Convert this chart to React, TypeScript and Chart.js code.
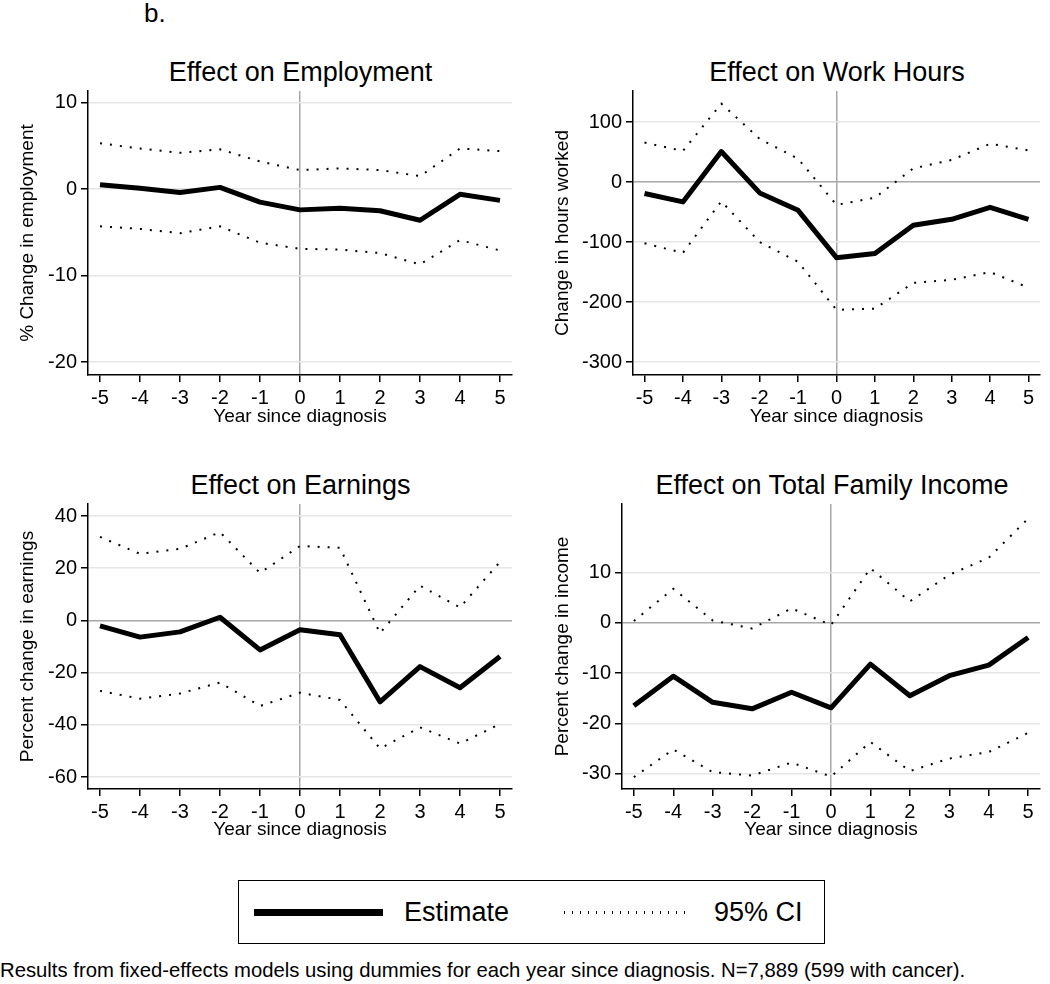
import React, { useEffect, useRef } from "react";
import { Chart, registerables } from "chart.js";

Chart.register(...registerables);

const FONT = "'Liberation Sans', Arial, Helvetica, sans-serif";

// ---- Data ----
const years = [-5, -4, -3, -2, -1, 0, 1, 2, 3, 4, 5];

const employmentEst = [0.5, 0.1, -0.4, 0.2, -1.5, -2.4, -2.2, -2.5, -3.6, -0.6, -1.3];
const employmentHi = [5.3, 4.7, 4.2, 4.6, 3.2, 2.2, 2.4, 2.2, 1.5, 4.7, 4.4];
const employmentLo = [-4.3, -4.6, -5.1, -4.3, -6.2, -6.9, -7.0, -7.4, -8.7, -5.9, -7.1];
const employmentTicks = [-20, -10, 0, 10];

const hoursEst = [-19, -33, 51, -18, -47, -126, -119, -72, -62, -42, -62];
const hoursHi = [66, 52, 131, 72, 39, -38, -26, 23, 37, 64, 53];
const hoursLo = [-102, -118, -32, -100, -133, -213, -211, -168, -163, -150, -176];
const hoursTicks = [-300, -200, -100, 0, 100];

const earningsEst = [-2.1, -6.4, -4.4, 1.2, -11.3, -3.6, -5.5, -31.2, -17.7, -25.8, -13.8];
const earningsHi = [32, 25.5, 27.4, 33.8, 18.2, 28.5, 27.8, -4.9, 13.3, 5.0, 22.4];
const earningsLo = [-27, -30, -28, -23.8, -32.8, -27.7, -30.5, -49.1, -41, -47.2, -39.7];
const earningsTicks = [-60, -40, -20, 0, 20, 40];

const incomeEst = [-16.5, -10.6, -15.8, -17.1, -13.8, -16.9, -8.2, -14.5, -10.5, -8.4, -2.9];
const incomeHi = [0.4, 6.8, 0.5, -1.1, 2.9, -0.4, 10.9, 4.3, 9.6, 13.0, 20.8];
const incomeLo = [-30.7, -25.2, -29.7, -30.4, -27.8, -30.6, -23.7, -29.5, -27, -25.7, -21.9];
const incomeTicks = [-30, -20, -10, 0, 10];

const xTitle = "Year since diagnosis";

type PanelSpec = {
  title: string;
  yTitle: string;
  est: number[];
  hi: number[];
  lo: number[];
  yTicks: number[];
  yMin: number;
  yMax: number;
  zeroLine: boolean;
  // layout
  left: number;
  top: number;
  w: number;
  h: number;
  yAxisW: number;
  xAxisH: number;
  yTitlePad: number;
  titleCenter: number;
  titleTop: number;
};

const panels: PanelSpec[] = [
  {
    title: "Effect on Employment",
    yTitle: "% Change in employment",
    est: employmentEst, hi: employmentHi, lo: employmentLo, yTicks: employmentTicks,
    yMin: -21.5, yMax: 11.35, zeroLine: false,
    left: 0, top: 71, w: 522, h: 364, yAxisW: 88, xAxisH: 60, yTitlePad: 16,
    titleCenter: 300.5, titleTop: 59,
  },
  {
    title: "Effect on Work Hours",
    yTitle: "Change in hours worked",
    est: hoursEst, hi: hoursHi, lo: hoursLo, yTicks: hoursTicks,
    yMin: -321.7, yMax: 152, zeroLine: true,
    left: 520, top: 71, w: 530, h: 364, yAxisW: 113, xAxisH: 60, yTitlePad: 31.5,
    titleCenter: 837, titleTop: 59,
  },
  {
    title: "Effect on Earnings",
    yTitle: "Percent change in earnings",
    est: earningsEst, hi: earningsHi, lo: earningsLo, yTicks: earningsTicks,
    yMin: -64.6, yMax: 44.6, zeroLine: true,
    left: 0, top: 484, w: 522, h: 364, yAxisW: 88, xAxisH: 59, yTitlePad: 16,
    titleCenter: 300.5, titleTop: 472,
  },
  {
    title: "Effect on Total Family Income",
    yTitle: "Percent change in income",
    est: incomeEst, hi: incomeHi, lo: incomeLo, yTicks: incomeTicks,
    yMin: -33.07, yMax: 23.7, zeroLine: true,
    left: 520, top: 484, w: 530, h: 364, yAxisW: 102, xAxisH: 59, yTitlePad: 31,
    titleCenter: 832, titleTop: 472,
  },
];

function Panel({ spec }: { spec: PanelSpec }) {
  const ref = useRef<HTMLCanvasElement | null>(null);
  useEffect(() => {
    if (!ref.current) return;
    const pts = (arr: number[]) => years.map((x, i) => ({ x, y: arr[i] }));
    const chart = new Chart(ref.current, {
      type: "line",
      data: {
        datasets: [
          {
            label: "Estimate",
            data: pts(spec.est),
            borderColor: "#000",
            borderWidth: 5,
            pointRadius: 0,
            borderJoinStyle: "round",
            borderCapStyle: "butt",
            tension: 0,
          },
          {
            label: "95% CI upper",
            data: pts(spec.hi),
            borderColor: "#000",
            borderWidth: 2,
            borderDash: [2, 8],
            pointRadius: 0,
            tension: 0,
          },
          {
            label: "95% CI lower",
            data: pts(spec.lo),
            borderColor: "#000",
            borderWidth: 2,
            borderDash: [2, 8],
            pointRadius: 0,
            tension: 0,
          },
        ],
      },
      options: {
        responsive: false,
        animation: false,
        devicePixelRatio: 1,
        events: [],
        layout: { padding: { top: 20, right: 10, left: 0, bottom: 0 } },
        plugins: { legend: { display: false }, tooltip: { enabled: false }, title: { display: false } },
        scales: {
          x: {
            type: "linear",
            min: -5.3,
            max: 5.3,
            afterBuildTicks: (s: any) => {
              s.ticks = years.map((v) => ({ value: v }));
            },
            afterFit: (s: any) => {
              s.height = spec.xAxisH;
            },
            ticks: {
              font: { size: 20, family: FONT },
              color: "#000",
              padding: 4,
              autoSkip: false,
              maxRotation: 0,
              callback: (v: any) => String(v),
            },
            grid: {
              color: (c: any) => (c.tick && c.tick.value === 0 ? "#a8a8a8" : "rgba(0,0,0,0)"),
              tickColor: "#000",
              tickLength: 7,
              lineWidth: 1.5,
              drawOnChartArea: true,
            },
            border: { display: true, color: "#000", width: 1.5 },
            title: {
              display: true,
              text: xTitle,
              font: { size: 19, family: FONT },
              color: "#000",
              padding: { top: 0, bottom: 7 },
            },
          },
          y: {
            type: "linear",
            min: spec.yMin,
            max: spec.yMax,
            afterBuildTicks: (s: any) => {
              s.ticks = spec.yTicks.map((v) => ({ value: v }));
            },
            afterFit: (s: any) => {
              s.width = spec.yAxisW;
            },
            ticks: {
              font: { size: 20, family: FONT },
              color: "#000",
              padding: 4,
              autoSkip: false,
              callback: (v: any) => String(v),
            },
            grid: {
              color: (c: any) =>
                c.tick && c.tick.value === 0 && spec.zeroLine ? "#a8a8a8" : "#e6e6e6",
              tickColor: "#000",
              tickLength: 7,
              lineWidth: 1.5,
              drawOnChartArea: true,
            },
            border: { display: true, color: "#000", width: 1.5 },
            title: {
              display: true,
              text: spec.yTitle,
              font: { size: 19, family: FONT },
              color: "#000",
              padding: { top: spec.yTitlePad, bottom: 0 },
            },
          },
        },
      },
    } as any);
    return () => chart.destroy();
  }, [spec]);
  return (
    <canvas
      ref={ref}
      width={spec.w}
      height={spec.h}
      style={{ position: "absolute", left: spec.left, top: spec.top, width: spec.w, height: spec.h }}
    />
  );
}

export default function App() {
  return (
    <div
      style={{
        position: "absolute",
        left: 0,
        top: 0,
        width: 1050,
        height: 984,
        background: "#fff",
        fontFamily: FONT,
        color: "#000",
        overflow: "hidden",
      }}
    >
      <div style={{ position: "absolute", left: 144, top: 0, fontSize: 26, lineHeight: "26px" }}>b.</div>
      {panels.map((p) => (
        <React.Fragment key={p.title}>
          <div
            style={{
              position: "absolute",
              left: p.titleCenter - 250,
              width: 500,
              top: p.titleTop,
              fontSize: 27,
              lineHeight: "27px",
              textAlign: "center",
              whiteSpace: "nowrap",
            }}
          >
            {p.title}
          </div>
          <Panel spec={p} />
        </React.Fragment>
      ))}
      {/* Legend */}
      <div
        style={{
          position: "absolute",
          left: 238,
          top: 880,
          width: 587,
          height: 64,
          border: "1.5px solid #000",
          boxSizing: "border-box",
        }}
      />
      <div style={{ position: "absolute", left: 254, top: 908.5, width: 129, height: 7, background: "#000" }} />
      <div style={{ position: "absolute", left: 404, top: 898.5, fontSize: 27, lineHeight: "27px", whiteSpace: "nowrap" }}>
        Estimate
      </div>
      <div
        style={{
          position: "absolute",
          left: 564,
          top: 910.5,
          width: 128,
          height: 3,
          background: "repeating-linear-gradient(to right, #000 0px, #000 1.5px, transparent 1.5px, transparent 8px)",
        }}
      />
      <div style={{ position: "absolute", left: 714, top: 898.5, fontSize: 27, lineHeight: "27px", whiteSpace: "nowrap" }}>
        95% CI
      </div>
      <div
        style={{
          position: "absolute",
          left: 0,
          top: 960,
          fontSize: 20.3,
          lineHeight: "20.3px",
          whiteSpace: "nowrap",
        }}
      >
        Results from fixed-effects models using dummies for each year since diagnosis. N=7,889 (599 with cancer).
      </div>
    </div>
  );
}
